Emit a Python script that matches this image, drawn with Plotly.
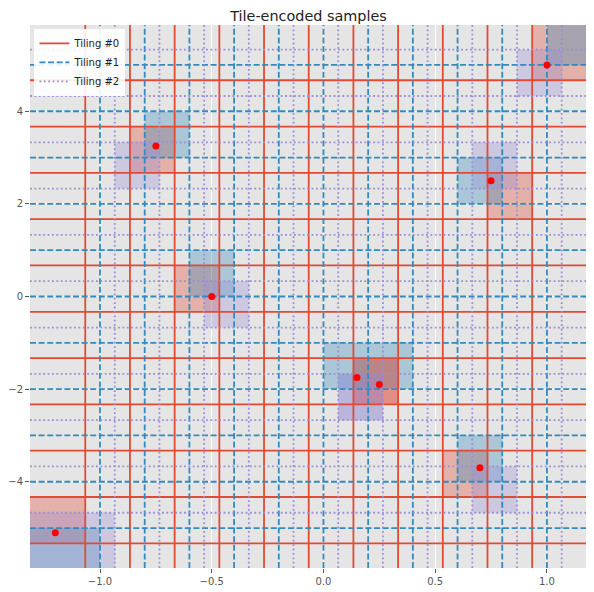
import numpy as np
import plotly.graph_objects as go

# state space and tilings
low = [-1.0, -5.0]
high = [1.0, 5.0]
bins = (10, 10)
offsets = [(-0.066, -0.33), (0.0, 0.0), (0.066, 0.33)]
tiling_names = ["Tiling #0", "Tiling #1", "Tiling #2"]

# samples to encode
sample_x = [-1.2, -0.75, -0.5, 0.25, 0.15, 0.75, 0.7, 1.0]
sample_y = [-5.1, 3.25, 0.0, -1.9, -1.75, 2.5, -3.7, 5.0]

# ggplot style colours
colors = ['#E24A33', '#348ABD', '#988ED5']
dashes = ['solid', '6px,2.6px', '1.8px,2.6px']

# one grid per tiling: split points along x and y
tilings = []
for off in offsets:
    gx = np.linspace(low[0], high[0], bins[0] + 1) + off[0]
    gy = np.linspace(low[1], high[1], bins[1] + 1) + off[1]
    tilings.append((gx, gy))

# axis limits like matplotlib autoscale (5% margin around lines and samples)
all_x = np.concatenate([t[0] for t in tilings] + [np.array(sample_x)])
all_y = np.concatenate([t[1] for t in tilings] + [np.array(sample_y)])
mx = (all_x.max() - all_x.min()) * 0.05
my = (all_y.max() - all_y.min()) * 0.05
xlim = [all_x.min() - mx, all_x.max() + mx]
ylim = [all_y.min() - my, all_y.max() + my]

fig = go.Figure()

# tiling grid lines
for i, (gx, gy) in enumerate(tilings):
    xs, ys = [], []
    for v in gx:
        xs += [v, v, None]
        ys += [ylim[0], ylim[1], None]
    for v in gy:
        xs += [xlim[0], xlim[1], None]
        ys += [v, v, None]
    fig.add_trace(go.Scatter(
        x=xs, y=ys, mode='lines', name=tiling_names[i],
        line=dict(color=colors[i], width=1.8, dash=dashes[i]),
        hoverinfo='skip'))

# shade the tile each sample falls into, for every tiling
for sx, sy in zip(sample_x, sample_y):
    for i, (gx, gy) in enumerate(tilings):
        ex = np.concatenate([[xlim[0]], gx, [xlim[1]]])
        ey = np.concatenate([[ylim[0]], gy, [ylim[1]]])
        ix = int(np.digitize(sx, gx))
        iy = int(np.digitize(sy, gy))
        fig.add_shape(type='rect', x0=ex[ix], x1=ex[ix + 1], y0=ey[iy], y1=ey[iy + 1],
                      xref='x', yref='y', fillcolor=colors[i], opacity=0.33,
                      line=dict(width=0), layer='between')

# original samples
fig.add_trace(go.Scatter(
    x=sample_x, y=sample_y, mode='markers', showlegend=False,
    marker=dict(color='red', size=7)))

# page body has an 8px margin, so the figure is 8px smaller than the window
fig.update_layout(
    width=586, height=584,
    margin=dict(l=22, r=7, t=17, b=24, autoexpand=False),
    paper_bgcolor='white',
    plot_bgcolor='#E5E5E5',
    font=dict(family='DejaVu Sans', size=10, color='#555555'),
    title=dict(text='Tile-encoded samples', x=0.5, xref='paper', xanchor='center',
               y=1, yref='paper', yanchor='bottom', pad=dict(b=4), automargin=False,
               font=dict(size=14.4, color='#222222')),
    legend=dict(x=0.008, y=0.993, xanchor='left', yanchor='top',
                bgcolor='rgba(255,255,255,0.9)', borderwidth=0,
                font=dict(size=10, color='#222222'),
                itemwidth=30, tracegroupgap=0),
    showlegend=True,
)
fig.update_xaxes(range=xlim, tickvals=[-1.0, -0.5, 0.0, 0.5, 1.0], tickformat='.1f',
                 showgrid=True, gridcolor='white', gridwidth=1, zeroline=False,
                 ticks='outside', ticklen=4, tickcolor='#555555', showline=False,
                 automargin=False)
fig.update_yaxes(range=ylim, tickvals=[-4, -2, 0, 2, 4],
                 showgrid=True, gridcolor='white', gridwidth=1, zeroline=False,
                 ticks='outside', ticklen=4, tickcolor='#555555', showline=False,
                 automargin=False)

fig.write_html("out.html")
